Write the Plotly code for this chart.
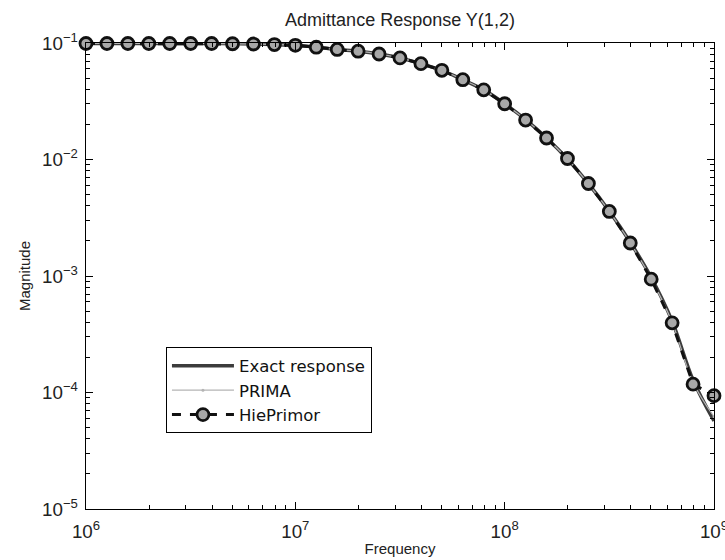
import plotly.graph_objects as go

# Frequencies: 10 points per decade from 1e6 to 1e9
freq = [1e6 * 10 ** (k / 10) for k in range(31)]

exact = [0.099, 0.099, 0.099, 0.099, 0.099, 0.099, 0.099, 0.0985, 0.098, 0.097,
         0.0955, 0.092, 0.088, 0.085, 0.0805, 0.0745, 0.0665, 0.0583, 0.0484, 0.0396,
         0.0301, 0.0220, 0.0153, 0.0101, 0.00620, 0.00360, 0.00195, 0.00097, 0.00041,
         0.000128, 0.000057]
prima = [0.099, 0.099, 0.099, 0.099, 0.099, 0.099, 0.099, 0.0985, 0.098, 0.097,
         0.0955, 0.092, 0.088, 0.085, 0.0805, 0.0745, 0.0665, 0.0583, 0.0484, 0.0396,
         0.0301, 0.0220, 0.0153, 0.0101, 0.00618, 0.00358, 0.00193, 0.00095, 0.00040,
         0.000122, 0.000062]
hieprimor = [0.099, 0.099, 0.099, 0.099, 0.099, 0.099, 0.099, 0.0985, 0.098, 0.097,
             0.0955, 0.092, 0.088, 0.085, 0.0805, 0.0745, 0.0665, 0.0583, 0.0484, 0.0396,
             0.0301, 0.0218, 0.0153, 0.0102, 0.00622, 0.00358, 0.00192, 0.00094, 0.000396,
             0.000118, 0.000094]

FONT = "Liberation Sans, Arial, Helvetica, sans-serif"

fig = go.Figure()
fig.add_trace(go.Scatter(x=freq, y=exact, mode="lines", name="Exact response",
                         line=dict(color="#3c3c3c", width=3.5, shape="spline")))
fig.add_trace(go.Scatter(x=freq, y=prima, mode="lines+markers", name="PRIMA",
                         line=dict(color="#b4b4b4", width=1.2, shape="spline"),
                         marker=dict(symbol="circle", size=3, color="#b4b4b4")))
fig.add_trace(go.Scatter(x=freq, y=hieprimor, mode="lines+markers", name="HiePrimor",
                         line=dict(color="#111111", width=3, dash="dash"),
                         marker=dict(symbol="circle", size=12, color="#a8a8a8",
                                     line=dict(color="#111111", width=2.8)),
                         cliponaxis=False))

axis_common = dict(
    type="log", showline=True, linecolor="black", linewidth=1.2, mirror="ticks",
    ticks="inside", ticklen=7, tickcolor="black", dtick=1, exponentformat="power",
    showgrid=False, zeroline=False, ticklabeloverflow="allow",
    tickfont=dict(family=FONT, size=15, color="#222222"),
    minor=dict(ticks="inside", ticklen=4, tickcolor="black", dtick="D1", showgrid=False),
)

fig.update_layout(
    width=725, height=560,
    margin=dict(l=86, r=11, t=43, b=51, autoexpand=False),
    paper_bgcolor="white", plot_bgcolor="white",
    font=dict(family=FONT, color="#222222"),
    title=dict(text="Admittance Response Y(1,2)", xref="paper", x=0.5, xanchor="center",
               yref="container", y=0.964, yanchor="middle",
               font=dict(size=18, family=FONT)),
    xaxis=dict(axis_common, range=[5.99999, 9.00001], ticklabelstandoff=6,
               title=dict(text="Frequency", font=dict(size=15, family=FONT), standoff=2)),
    yaxis=dict(axis_common, range=[-5.00001, -0.99999], ticklabelstandoff=4,
               title=dict(text="Magnitude", font=dict(size=15, family=FONT), standoff=7)),
    legend=dict(x=0.127, y=0.347, xanchor="left", yanchor="top",
                bgcolor="white", bordercolor="black", borderwidth=1.2,
                font=dict(size=16.5, family="DejaVu Sans, Liberation Sans, sans-serif",
                          color="#111111"),
                itemwidth=62, tracegroupgap=0),
    showlegend=True,
)

fig.write_html("out.html", config={"displayModeBar": False},
               post_script="document.body.style.margin='0px';")
